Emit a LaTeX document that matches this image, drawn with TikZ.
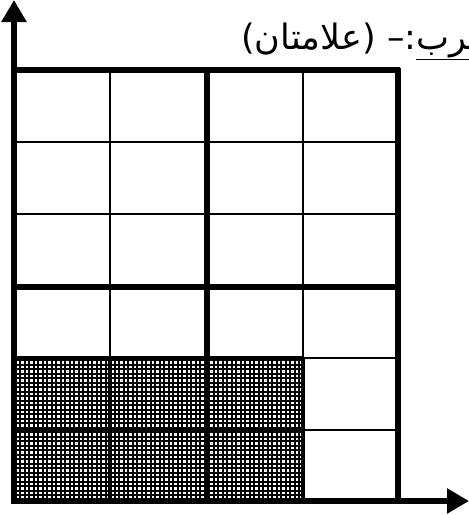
\documentclass[tikz,border=0pt]{standalone}
\usepackage{fontspec}
\newfontfamily\arabicfont[Script=Arabic]{DejaVu Sans}
\TeXXeTstate=1
\usetikzlibrary{arrows.meta}

\begin{document}
\begin{tikzpicture}[x=1pt,y=-1pt,
    thin line/.style={line width=2pt},
    thick line/.style={line width=5.5pt},
    hatch line/.style={line width=2pt},
    axis/.style={line width=6pt,-{Triangle[length=22pt,width=24pt]}}]
    \useasboundingbox (0,0) rectangle (469,515);

    % titolo
    \node[anchor=base west,inner sep=0pt] (title) at (241,49)
      {\arabicfont\fontsize{35}{40}\selectfont\beginR\underline{ضرب}:– (علامتان)\endR};

    % celle tratteggiate (3 x 2)
    \begin{scope}
      \clip (14,358) rectangle (303,500);
      \foreach \hx in {15.5,20,...,303}
        \draw[hatch line] (\hx,358) -- (\hx,500);
      \foreach \hy in {360,364.5,...,500}
        \draw[hatch line] (14,\hy) -- (303,\hy);
    \end{scope}

    % righe sottili
    \foreach \ry in {142,214,358,430}
      \draw[thin line] (14,\ry) -- (398,\ry);
    \foreach \cx in {110,303}
      \draw[thin line] (\cx,70) -- (\cx,500);

    % bordi delle celle tratteggiate
    \foreach \ry in {358,430}
      \draw[line width=3.5pt] (14,\ry) -- (303,\ry);
    \foreach \cx in {110,303}
      \draw[line width=3.5pt] (\cx,358) -- (\cx,500);

    % righe spesse
    \draw[thick line] (12,70) -- (400,70);
    \draw[thick line] (14,287) -- (398,287);
    \draw[thick line] (207,70) -- (207,500);
    \draw[thick line] (398,68) -- (398,500);

    % assi
    \draw[axis] (14,504) -- (14,0);
    \draw[axis] (11,501) -- (469,501);
\end{tikzpicture}
\end{document}
